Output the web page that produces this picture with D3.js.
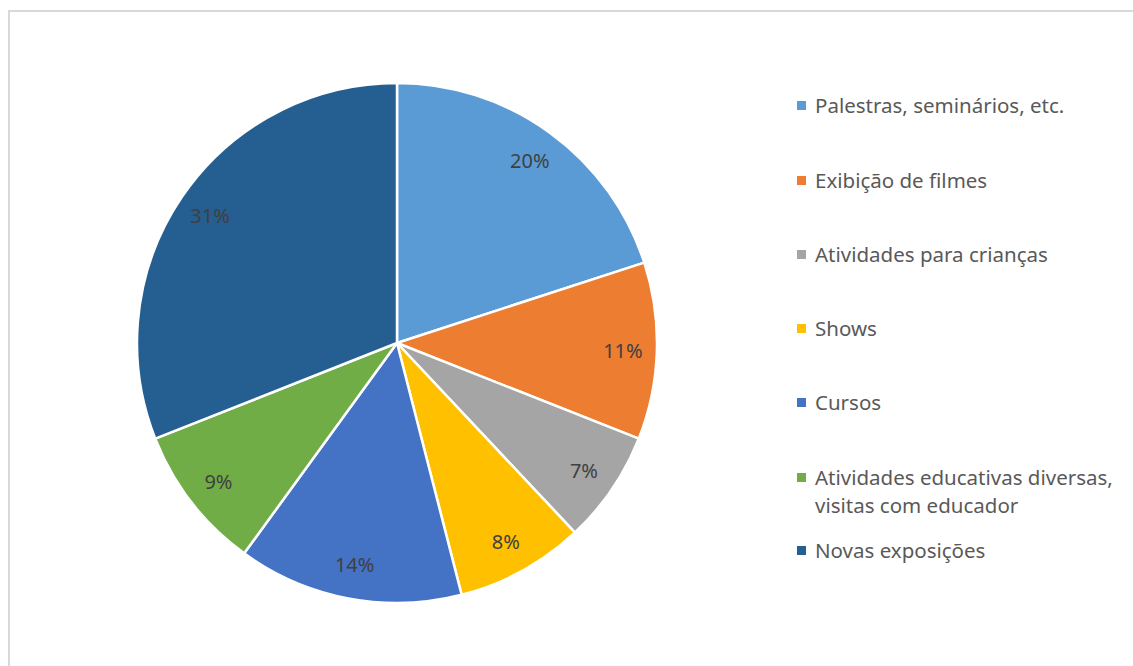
<!DOCTYPE html>
<html>
<head>
<meta charset="utf-8">
<script src="https://cdn.jsdelivr.net/npm/d3@7"></script>
<style>
  html, body { margin: 0; padding: 0; background: #fff; }
  svg { display: block; }
</style>
</head>
<body>
<svg id="chart" width="1133" height="666"></svg>
<script>
// Activity categories and their shares (%)
const categories = [
  "Palestras, seminários, etc.",
  "Exibição de filmes",
  "Atividades para crianças",
  "Shows",
  "Cursos",
  "Atividades educativas diversas, visitas com educador",
  "Novas exposições"
];
const values = [20, 11, 7, 8, 14, 9, 31];
const colors = ["#5b9bd5", "#ed7d31", "#a5a5a5", "#ffc000", "#4472c4", "#70ad47", "#255e91"];
// Legend text, split into lines
const legendLines = [
  ["Palestras, seminários, etc."],
  ["Exibição de filmes"],
  ["Atividades para crianças"],
  ["Shows"],
  ["Cursos"],
  ["Atividades educativas diversas,", "visitas com educador"],
  ["Novas exposições"]
];
const legendY = [105, 180, 254, 328, 402, 477, 550];

const svg = d3.select("#chart");
const font = "'Noto Sans', 'Open Sans', sans-serif";

// Chart frame
svg.append("rect")
  .attr("x", 9).attr("y", 11)
  .attr("width", 1200).attr("height", 700)
  .attr("fill", "none")
  .attr("stroke", "#d9d9d9")
  .attr("stroke-width", 2);

const cx = 397, cy = 343, R = 260;
const data = categories.map((c, i) => ({ name: c, value: values[i], color: colors[i] }));

const pie = d3.pie().value(d => d.value).sort(null);
const arcs = pie(data);
const arc = d3.arc().innerRadius(0).outerRadius(R);
const labelArc = d3.arc().innerRadius(226).outerRadius(226);

const g = svg.append("g").attr("transform", `translate(${cx},${cy})`);

g.selectAll("path.slice")
  .data(arcs)
  .join("path")
  .attr("class", "slice")
  .attr("d", arc)
  .attr("fill", d => d.data.color)
  .attr("stroke", "#fff")
  .attr("stroke-width", 2.5)
  .attr("stroke-linejoin", "round");

g.selectAll("text.lbl")
  .data(arcs)
  .join("text")
  .attr("class", "lbl")
  .attr("transform", d => `translate(${labelArc.centroid(d)})`)
  .attr("text-anchor", "middle")
  .attr("dominant-baseline", "central")
  .attr("font-family", font)
  .attr("font-size", 20)
  .attr("fill", "#404040")
  .text(d => d.data.value + "%");

// Legend
const leg = svg.append("g");
legendLines.forEach((lines, i) => {
  const y = legendY[i];
  leg.append("rect")
    .attr("x", 797).attr("y", y - 4)
    .attr("width", 9).attr("height", 9)
    .attr("fill", colors[i]);
  lines.forEach((ln, j) => {
    leg.append("text")
      .attr("x", 815)
      .attr("y", y + j * 28)
      .attr("dominant-baseline", "central")
      .attr("font-family", font)
      .attr("font-size", 20.5)
      .attr("fill", "#595959")
      .text(ln);
  });
});
</script>
</body>
</html>
